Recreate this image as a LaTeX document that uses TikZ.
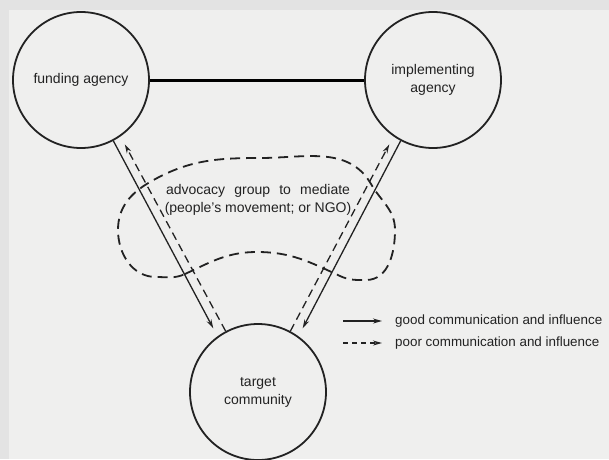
\documentclass[tikz,border=0pt]{standalone}
\usepackage{fontspec}
\setmainfont{Liberation Sans}
\usepackage{tikz}
\usetikzlibrary{positioning}
\usetikzlibrary{arrows.meta}
\definecolor{panel}{HTML}{EFEFEE}
\definecolor{frame}{HTML}{E3E3E3}
\definecolor{ink}{HTML}{222222}

\begin{document}
\begin{tikzpicture}[x=1pt,y=1pt,
		agency/.style={circle,draw=ink,line width=1.8pt,minimum size=136pt,inner sep=0pt,align=center,text=ink,font=\fontsize{14}{18}\selectfont},
		label/.style={inner sep=0pt,text=ink,font=\fontsize{14}{18}\selectfont},
		good/.style={draw=ink,line width=1.3pt,-{Stealth[length=9pt,width=5pt]}},
		poor/.style={good,dash pattern=on 8pt off 5pt}]

		  % Hintergrund
		  \useasboundingbox (-81,-379) rectangle (528,80);
		  \fill[frame] (-81,-379) rectangle (528,80);
		  \fill[panel] (-72,-379) rectangle (528,70);

		  % Kreise
		  \node[agency] (FA) {funding agency};
		  \node[agency] (IA) [right=352pt of FA.center,anchor=center] {implementing\\agency};
		  \node[agency] (TC) [below right=312pt and 177pt of FA.center,anchor=center] {target\\community};

		  % Vermittler
		  \draw[ink,line width=1.8pt,dash pattern=on 10pt off 6pt]
			(104,-194) to[out=25,in=180] (176,-172) to[out=0,in=155] (259,-196)
			to[out=-25,in=180] (285,-200) to[out=0,in=-90] (314,-150)
			to[out=90,in=-60] (290,-104) to[out=120,in=0] (179,-78)
			to[out=180,in=30] (69,-102) to[out=210,in=90] (37,-150)
			to[out=-90,in=180] (75,-197) to[out=0,in=205] cycle;
		  \node[label,align=center] (AG) [below right=120pt and 177pt of FA.center,anchor=center]
		   {\makebox[184pt][s]{advocacy group to mediate}\\(people's movement; or NGO)};

		  % Legende
		  \node[label,font=\fontsize{13.4}{18}\selectfont] (GL) [below right=241pt and 314pt of FA.center,anchor=west] {good communication and influence};
		  \node[label,font=\fontsize{13.4}{18}\selectfont] (PL) [below=22pt of GL.west,anchor=west] {poor communication and influence};
		  \path (GL.west) ++(-52,0) coordinate (GS);
		  \path (PL.west) ++(-52,0) coordinate (PS);

		  \draw[line width=3pt,black] (FA) -- (IA);
		  \path[shorten >=9pt]
			(FA.-62)  edge[good] (TC.126)
			(TC.118)  edge[poor] (FA.-55)
			(IA.-118) edge[good] (TC.54)
			(TC.62)   edge[poor] (IA.-125);
		  \path[shorten >=13pt]
			(GS) edge[good] (GL.west)
			(PS) edge[poor,dash pattern=on 5pt off 4pt] (PL.west);

		\end{tikzpicture}
\end{document}
